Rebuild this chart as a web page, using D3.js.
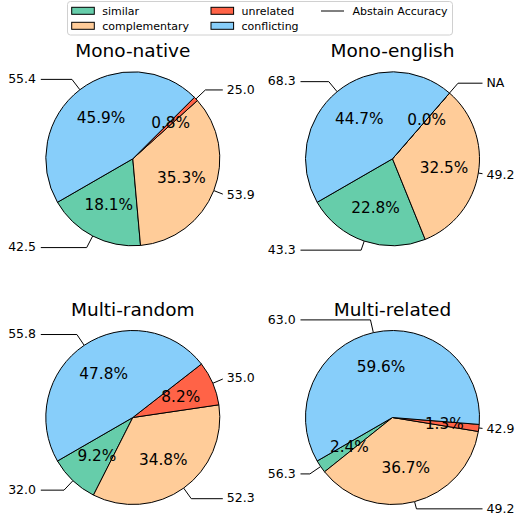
<!DOCTYPE html>
<html>
<head>
<meta charset="utf-8">
<script src="https://cdn.jsdelivr.net/npm/d3@7"></script>
<style>
  html, body { margin: 0; padding: 0; background: #fff; }
  svg { display: block; }
  text { font-family: "DejaVu Sans", sans-serif; fill: #000; }
</style>
</head>
<body>
<div id="chart"></div>
<script>
// ---- data ----
const categories = ["similar", "complementary", "unrelated", "conflicting"];
const colors = ["#66cdaa", "#ffcc99", "#ff6347", "#87cefa"];
const titles = ["Mono-native", "Mono-english", "Multi-random", "Multi-related"];
const monoNativeShare   = [18.1, 35.3, 0.8, 45.9];
const monoEnglishShare  = [22.8, 32.5, 0.0, 44.7];
const multiRandomShare  = [9.2, 34.8, 8.2, 47.8];
const multiRelatedShare = [2.4, 36.7, 1.3, 59.6];
const monoNativeAcc   = ["42.5", "53.9", "25.0", "55.4"];
const monoEnglishAcc  = ["43.3", "49.2", "NA", "68.3"];
const multiRandomAcc  = ["32.0", "52.3", "35.0", "55.8"];
const multiRelatedAcc = ["56.3", "49.2", "42.9", "63.0"];
const legendLineLabel = "Abstain Accuracy";

const shares = [monoNativeShare, monoEnglishShare, multiRandomShare, multiRelatedShare];
const accs = [monoNativeAcc, monoEnglishAcc, multiRandomAcc, multiRelatedAcc];

// ---- layout ----
const W = 519, H = 522;
const colX = [132.8, 392.5];
const rowY = [158.8, 417.5];
const R = 87;

const svg = d3.select("#chart").append("svg").attr("width", W).attr("height", H);

const color = d3.scaleOrdinal().domain(categories).range(colors);

// matplotlib-like: startangle 210 deg (math), counter-clockwise
const start = (90 - 210) * Math.PI / 180;
const pie = d3.pie().sort(null).value(d => d.v)
  .startAngle(start).endAngle(start - 2 * Math.PI);
const arc = d3.arc().innerRadius(0).outerRadius(R);

shares.forEach((vals, i) => {
  const cx = colX[i % 2], cy = rowY[Math.floor(i / 2)];
  const g = svg.append("g").attr("transform", `translate(${cx},${cy})`);
  const data = vals.map((v, j) => ({ v, cat: categories[j], acc: accs[i][j] }));
  const arcs = pie(data);

  // leader lines (drawn beneath)
  const lg = g.append("g");
  arcs.forEach(a => {
    const m = (a.startAngle + a.endAngle) / 2;
    const sx = Math.sin(m), sy = Math.cos(m);
    const sign = sx >= 0 ? 1 : -1;
    const ty = Math.max(1.15 * sy, -1.05);
    const typx = -ty * R;
    const B = [R * sx, -R * sy];
    let C;
    if (Math.abs(sy) > 1e-6) {
      const rc = ty / sy;
      C = [rc * R * sx, typx];
    } else {
      C = [B[0], typx];
    }
    const ex = sign > 0 ? 90 : -92;
    let pts;
    if ((sign > 0 && C[0] > ex) || (sign < 0 && C[0] < ex)) {
      const t = (ex - B[0]) / (C[0] - B[0]);
      pts = [B, [ex, B[1] + t * (C[1] - B[1])]];
    } else {
      pts = [B, C, [ex, typx]];
    }
    lg.append("path")
      .attr("d", d3.line()(pts))
      .attr("fill", "none").attr("stroke", "#000").attr("stroke-width", 1);
    g.append("text")
      .attr("x", sign > 0 ? 94 : -96.8)
      .attr("y", typx)
      .attr("dy", "0.3em")
      .attr("text-anchor", sign > 0 ? "start" : "end")
      .style("font-size", "12.5px")
      .text(a.data.acc);
  });

  g.selectAll("path.wedge").data(arcs).enter().append("path")
    .attr("class", "wedge")
    .attr("d", arc)
    .attr("fill", d => color(d.data.cat))
    .attr("stroke", "#000").attr("stroke-width", 1)
    .attr("stroke-linejoin", "miter");

  arcs.forEach(a => {
    const m = (a.startAngle + a.endAngle) / 2;
    g.append("text")
      .attr("x", 0.6 * R * Math.sin(m))
      .attr("y", -0.6 * R * Math.cos(m))
      .attr("dy", "0.34em")
      .attr("text-anchor", "middle")
      .style("font-size", "15.3px")
      .text(a.data.v.toFixed(1) + "%");
  });

  g.append("text")
    .attr("x", 0).attr("y", -101.5)
    .attr("text-anchor", "middle")
    .style("font-size", "18.5px")
    .text(titles[i]);
});

// ---- legend ----
const leg = svg.append("g");
leg.append("rect")
  .attr("x", 67.5).attr("y", 1.5).attr("width", 385).attr("height", 33.5)
  .attr("rx", 3).attr("ry", 3)
  .attr("fill", "#fff").attr("fill-opacity", 0.8)
  .attr("stroke", "#d0d0d0").attr("stroke-width", 1);
const legCols = [71.7, 211];
const legRows = [10.8, 25.8];
categories.forEach((c, j) => {
  const lx = legCols[Math.floor(j / 2)], ly = legRows[j % 2];
  leg.append("rect")
    .attr("x", lx).attr("y", ly - 3.5).attr("width", 22.6).attr("height", 7)
    .attr("fill", color(c)).attr("stroke", "#000").attr("stroke-width", 1);
  leg.append("text")
    .attr("x", lx + 30.5).attr("y", ly + 4.3)
    .style("font-size", "11px")
    .text(c);
});
leg.append("line")
  .attr("x1", 321).attr("x2", 344).attr("y1", 11).attr("y2", 11)
  .attr("stroke", "#000").attr("stroke-width", 1);
leg.append("text")
  .attr("x", 352.5).attr("y", 10.8 + 4.3)
  .style("font-size", "11px")
  .text(legendLineLabel);
</script>
</body>
</html>
